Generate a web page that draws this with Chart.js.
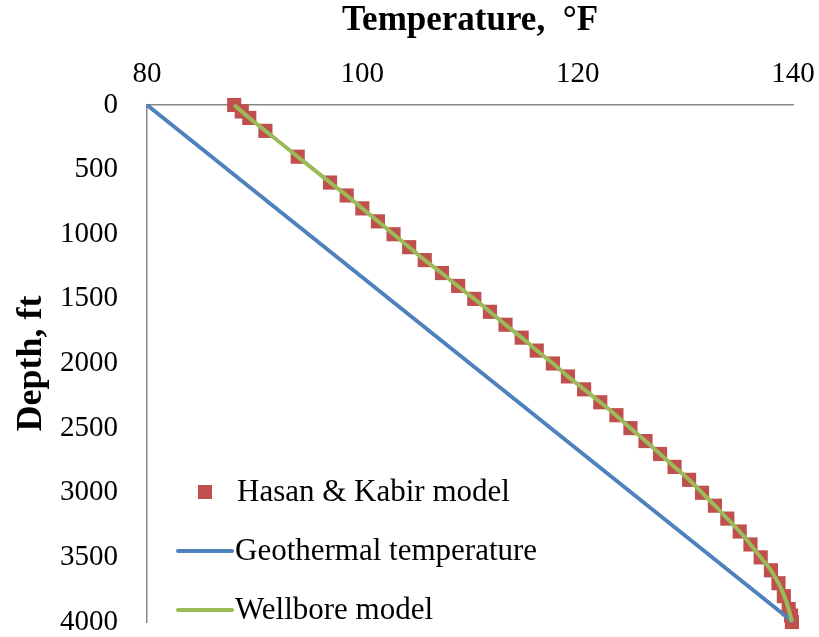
<!DOCTYPE html>
<html>
<head>
<meta charset="utf-8">
<script src="https://cdn.jsdelivr.net/npm/chart.js@4"></script>
<style>
  body { margin: 0; background: #fff; }
  #wrap { width: 819px; height: 637px; }
</style>
</head>
<body>
<div id="wrap"><canvas id="chart"></canvas></div>
<script>
// Hasan & Kabir model points
let modelDepth = [0, 50, 100, 200, 400, 600, 700, 800, 900, 1000, 1100, 1200, 1300, 1400, 1500, 1600, 1700, 1800, 1900, 2000,
    2100, 2200, 2300, 2400, 2500, 2600, 2700, 2800, 2900, 3000, 3100, 3200, 3300, 3400, 3500, 3600, 3700, 3800, 3900, 3950, 4000];
let modelTemp = [88.1, 88.8, 89.5, 91.0, 94.0, 97.0, 98.55, 100.0, 101.45, 102.9, 104.35, 105.8, 107.4, 108.9, 110.4, 111.85, 113.3, 114.8, 116.2, 117.7,
    119.1, 120.6, 122.1, 123.6, 124.9, 126.3, 127.65, 129.0, 130.35, 131.55, 132.75, 133.9, 135.05, 136.05, 137.0, 137.95, 138.65, 139.15, 139.6, 139.82, 139.9];

// geothermal line
let geoDepth = [0, 4000];
let geoTemp = [80, 140];

// wellbore model curve
let wellDepth = [0, 100, 200, 300, 400, 500, 600, 700, 800, 900, 1000, 1100, 1200, 1300, 1400, 1500, 1600, 1700, 1800, 1900, 2000,
    2100, 2200, 2300, 2400, 2500, 2600, 2700, 2800, 2900, 3000, 3100, 3200, 3300, 3400, 3500, 3600, 3700, 3800, 3900, 4000];
let wellTemp = [88.1, 89.5, 91.0, 92.5, 94.0, 95.5, 97.0, 98.55, 100.0, 101.45, 102.9, 104.35, 105.8, 107.35, 108.85, 110.4, 111.85, 113.3, 114.8, 116.2, 117.7,
    119.1, 120.6, 122.1, 123.55, 124.9, 126.3, 127.65, 129.0, 130.35, 131.55, 132.75, 133.9, 135.05, 136.05, 137.0, 137.95, 138.65, 139.2, 139.6, 139.9];

let tempTicks = [80, 100, 120, 140];
let depthTicks = [0, 500, 1000, 1500, 2000, 2500, 3000, 3500, 4000];

let labels = ['Hasan & Kabir model', 'Geothermal temperature', 'Wellbore model'];
let colors = ['#C0504D', '#4F81BD', '#9BBB59'];

function pts(xs, ys) {
    return xs.map((x, i) => ({ x: x, y: ys[i] }));
}

let serif = "'Liberation Serif', 'Times New Roman', serif";

// legend drawn inside the plot, lower left
let legendPlugin = {
    id: 'inLegend',
    afterDraw(chart) {
        let c = chart.ctx;
        let a = chart.chartArea;
        let x0 = a.left + 31;
        let y0 = a.bottom - 130;
        c.save();
        c.font = "31px " + serif;
        c.textBaseline = 'middle';
        // square marker
        c.fillStyle = colors[0];
        c.fillRect(x0 + 20, y0 - 7, 14, 14);
        c.fillStyle = '#000';
        c.fillText(labels[0], x0 + 59, y0 + 1);
        // lines
        for (let i = 1; i < 3; i++) {
            let y = y0 + i * 59;
            c.strokeStyle = colors[i];
            c.lineWidth = 4;
            c.lineCap = 'round';
            c.beginPath();
            c.moveTo(x0, y);
            c.lineTo(x0 + 54, y);
            c.stroke();
            c.fillText(labels[i], x0 + 57, y + 1);
        }
        c.restore();
    }
};

function noPad(s) {
    s.paddingLeft = 0;
    s.paddingRight = 0;
    s.paddingTop = 0;
    s.paddingBottom = 0;
}

let ctx = document.getElementById('chart').getContext('2d');

let chart = new Chart(ctx, {
    type: 'scatter',
    data: {
        datasets: [{
            label: labels[2],
            data: pts(wellTemp, wellDepth),
            showLine: true,
            borderColor: colors[2],
            borderWidth: 4,
            pointRadius: 0,
            tension: 0.4,
            order: 0
        }, {
            label: labels[1],
            data: pts(geoTemp, geoDepth),
            showLine: true,
            borderColor: colors[1],
            borderWidth: 4,
            pointRadius: 0,
            order: 1
        }, {
            label: labels[0],
            data: pts(modelTemp, modelDepth),
            pointStyle: 'rect',
            pointRadius: 10,
            backgroundColor: colors[0],
            borderColor: colors[0],
            borderWidth: 0,
            order: 2
        }]
    },
    options: {
        responsive: true,
        maintainAspectRatio: false,
        animation: false,
        clip: false,
        layout: { padding: { left: 0, right: 26, top: 0, bottom: 15 } },
        plugins: {
            legend: { display: false },
            tooltip: { enabled: false }
        },
        scales: {
            x: {
                type: 'linear',
                position: 'top',
                min: 80,
                max: 140,
                afterBuildTicks: (s) => { s.ticks = tempTicks.map(v => ({ value: v })); },
                afterFit: (s) => { s.height = 105; noPad(s); },
                grid: { display: false, drawTicks: false },
                border: { color: '#888', width: 1.5 },
                ticks: {
                    color: '#000',
                    padding: 13,
                    font: { family: serif, size: 29 },
                    callback: (v) => String(v)
                },
                title: {
                    display: true,
                    text: 'Temperature,  °F',
                    color: '#000',
                    padding: { top: 0, bottom: 0 },
                    font: { family: serif, size: 35, weight: 'bold' }
                }
            },
            y: {
                type: 'linear',
                reverse: true,
                min: 0,
                max: 4000,
                afterBuildTicks: (s) => { s.ticks = depthTicks.map(v => ({ value: v })); },
                afterFit: (s) => { s.width = 147; noPad(s); },
                grid: { display: false, drawTicks: false },
                border: { color: '#888', width: 1.5 },
                ticks: {
                    color: '#000',
                    padding: 29,
                    font: { family: serif, size: 29 },
                    callback: (v) => String(v)
                },
                title: {
                    display: true,
                    text: 'Depth, ft',
                    color: '#000',
                    padding: { top: 10, bottom: 0 },
                    font: { family: serif, size: 36, weight: 'bold' }
                }
            }
        }
    },
    plugins: [legendPlugin]
});
</script>
</body>
</html>
